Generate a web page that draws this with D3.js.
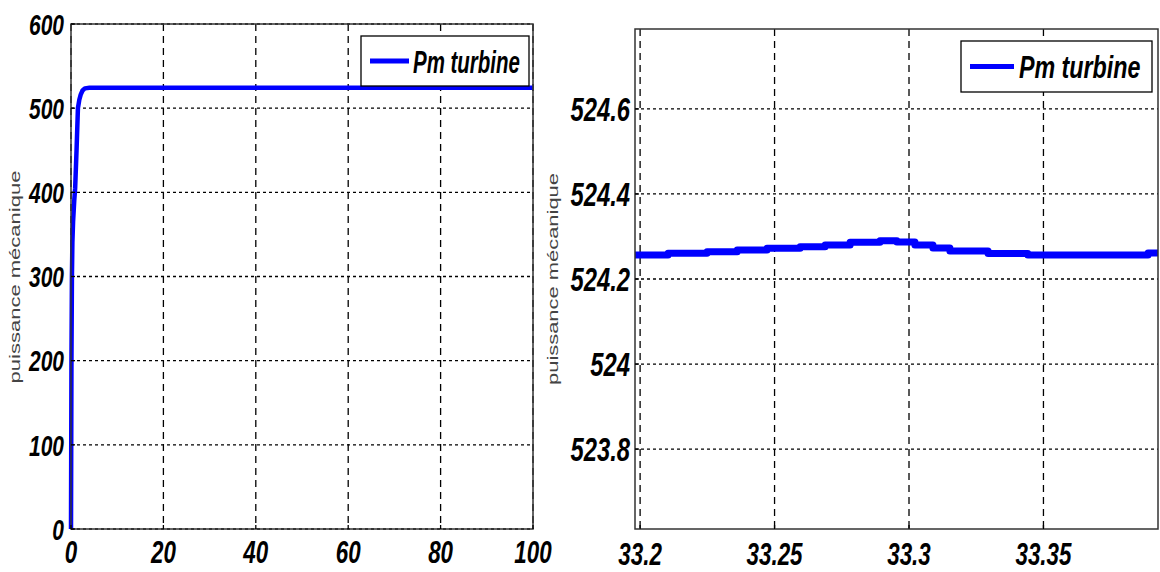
<!DOCTYPE html>
<html><head><meta charset="utf-8">
<script src="https://cdnjs.cloudflare.com/ajax/libs/d3/7.8.5/d3.min.js"></script>
<style>body{margin:0;background:#fff}svg{display:block}</style>
</head><body>
<svg id="chart" width="1160" height="572"></svg>
<script>
// ---- data ----
const leftTime = [0, 0.05, 0.1, 0.2, 0.3, 0.45, 0.7, 0.9, 1.2, 1.5, 1.8, 2.1, 2.5, 3, 4, 100];
const leftPower = [0, 100, 200, 300, 340, 365, 390, 405, 450, 500, 510, 516, 521, 523.5, 524.2, 524.26];
const rightTime = [33.1981, 33.2104, 33.2249, 33.2361, 33.2472, 33.2595, 33.2688, 33.2781, 33.2892, 33.2955, 33.3022, 33.3089, 33.3152, 33.3294, 33.3442, 33.3889, 33.3926];
const rightPower = [524.2565, 524.2605, 524.2642, 524.2682, 524.2722, 524.276, 524.28, 524.2864, 524.2901, 524.2871, 524.28, 524.273, 524.2659, 524.26, 524.2565, 524.2612, 524.2612];
const leftXTicks = [0, 20, 40, 60, 80, 100];
const leftYTicks = [0, 100, 200, 300, 400, 500, 600];
const rightXTicks = [33.2, 33.25, 33.3, 33.35];
const rightXLabels = ["33.2", "33.25", "33.3", "33.35"];
const rightYTicks = [523.8, 524, 524.2, 524.4, 524.6];
const rightYLabels = ["523.8", "524", "524.2", "524.4", "524.6"];
const seriesName = "Pm turbine";
const yTitle = "puissance mécanique";

const svg = d3.select("#chart");
const FONT = "'Liberation Sans', Arial, sans-serif";

function panel(o) {
  const x = d3.scaleLinear().domain(o.xDomain).range([o.x0, o.x1]);
  const y = d3.scaleLinear().domain(o.yDomain).range([o.y1, o.y0]);
  const g = svg.append("g");
  // grid
  g.selectAll(".hg").data(o.yTicks).join("line")
    .attr("x1", o.x0).attr("x2", o.x1).attr("y1", d => y(d)).attr("y2", d => y(d))
    .attr("stroke", "#000").attr("stroke-width", 1.3).attr("stroke-dasharray", "3,3");
  g.selectAll(".vg").data(o.xTicks).join("line")
    .attr("x1", d => x(d)).attr("x2", d => x(d)).attr("y1", o.y0).attr("y2", o.y1)
    .attr("stroke", "#000").attr("stroke-width", 1.3).attr("stroke-dasharray", "7,5");
  // line
  const line = d3.line().x((d, i) => x(o.xs[i])).y(d => y(d)).curve(o.curve);
  g.append("path").datum(o.ys).attr("d", line)
    .attr("fill", "none").attr("stroke", "#0000ff").attr("stroke-width", o.lw)
    .attr("stroke-linejoin", "round");
  // frame
  g.append("rect").attr("x", o.x0).attr("y", o.y0).attr("width", o.x1 - o.x0).attr("height", o.y1 - o.y0)
    .attr("fill", "none").attr("stroke", "#333").attr("stroke-width", 1.5);
  // tick marks
  g.selectAll(".yt").data(o.yTicks).join("line")
    .attr("x1", o.x0).attr("x2", o.x0 + 4).attr("y1", d => y(d)).attr("y2", d => y(d))
    .attr("stroke", "#000").attr("stroke-width", 1.3);
  g.selectAll(".xt").data(o.xTicks).join("line")
    .attr("x1", d => x(d)).attr("x2", d => x(d)).attr("y1", o.y1).attr("y2", o.y1 - 4)
    .attr("stroke", "#000").attr("stroke-width", 1.3);
  // tick labels
  g.selectAll(".yl").data(o.yTicks).join("text")
    .attr("transform", d => `translate(${o.yLabelX},${y(d)}) scale(0.7,1)`)
    .attr("dy", "0.36em").attr("text-anchor", "end")
    .attr("font-family", FONT).attr("font-weight", "bold").attr("font-style", "italic")
    .attr("font-size", o.yFont).attr("fill", "#000")
    .text((d, i) => o.yLabels[i]);
  g.selectAll(".xl").data(o.xTicks).join("text")
    .attr("transform", d => `translate(${x(d)},${o.xLabelY}) scale(0.7,1)`)
    .attr("text-anchor", "middle")
    .attr("font-family", FONT).attr("font-weight", "bold").attr("font-style", "italic")
    .attr("font-size", o.xFont).attr("fill", "#000")
    .text((d, i) => o.xLabels[i]);
  // y title
  g.append("text")
    .attr("transform", `translate(${o.titleX},${o.titleY}) rotate(-90)`)
    .attr("text-anchor", "middle").attr("dy", "0.35em")
    .attr("font-family", FONT).attr("font-size", 14).attr("fill", "#444")
    .attr("textLength", o.titleLen).attr("lengthAdjust", "spacingAndGlyphs")
    .text(yTitle);
  // legend
  const L = o.legend;
  g.append("rect").attr("x", L.x).attr("y", L.y).attr("width", L.w).attr("height", L.h)
    .attr("fill", "#fff").attr("stroke", "#000").attr("stroke-width", 1.3);
  g.append("line").attr("x1", L.x + 9).attr("x2", L.x + 9 + L.lineW)
    .attr("y1", L.y + L.h / 2).attr("y2", L.y + L.h / 2)
    .attr("stroke", "#0000ff").attr("stroke-width", 5);
  g.append("text").attr("transform", `translate(${L.tx},${L.ty}) scale(${L.sx},1)`)
    .attr("font-family", FONT).attr("font-weight", "bold").attr("font-style", "italic")
    .attr("font-size", 31).attr("fill", "#000")
    .text(seriesName);
}

panel({
  x0: 71, x1: 533, y0: 24, y1: 529,
  xDomain: [0, 100], yDomain: [0, 600],
  xs: leftTime, ys: leftPower, curve: d3.curveLinear, lw: 4.5,
  xTicks: leftXTicks, yTicks: leftYTicks,
  xLabels: leftXTicks.map(String), yLabels: leftYTicks.map(String),
  yLabelX: 64, xLabelY: 563, yFont: 30, xFont: 32,
  titleX: 15, titleY: 277, titleLen: 213,
  legend: {x: 361, y: 36, w: 168, h: 50, lineW: 39, tx: 413, ty: 73, sx: 0.66}
});

panel({
  x0: 635, x1: 1158, y0: 29, y1: 529,
  xDomain: [33.1981, 33.3926], yDomain: [523.612, 524.788],
  xs: rightTime, ys: rightPower, curve: d3.curveStepAfter, lw: 7,
  xTicks: rightXTicks, yTicks: rightYTicks,
  xLabels: rightXLabels, yLabels: rightYLabels,
  yLabelX: 630, xLabelY: 565, yFont: 34, xFont: 32,
  titleX: 553, titleY: 279, titleLen: 212,
  legend: {x: 961, y: 41, w: 191, h: 51, lineW: 44, tx: 1019, ty: 78, sx: 0.75}
});
</script>
</body></html>
